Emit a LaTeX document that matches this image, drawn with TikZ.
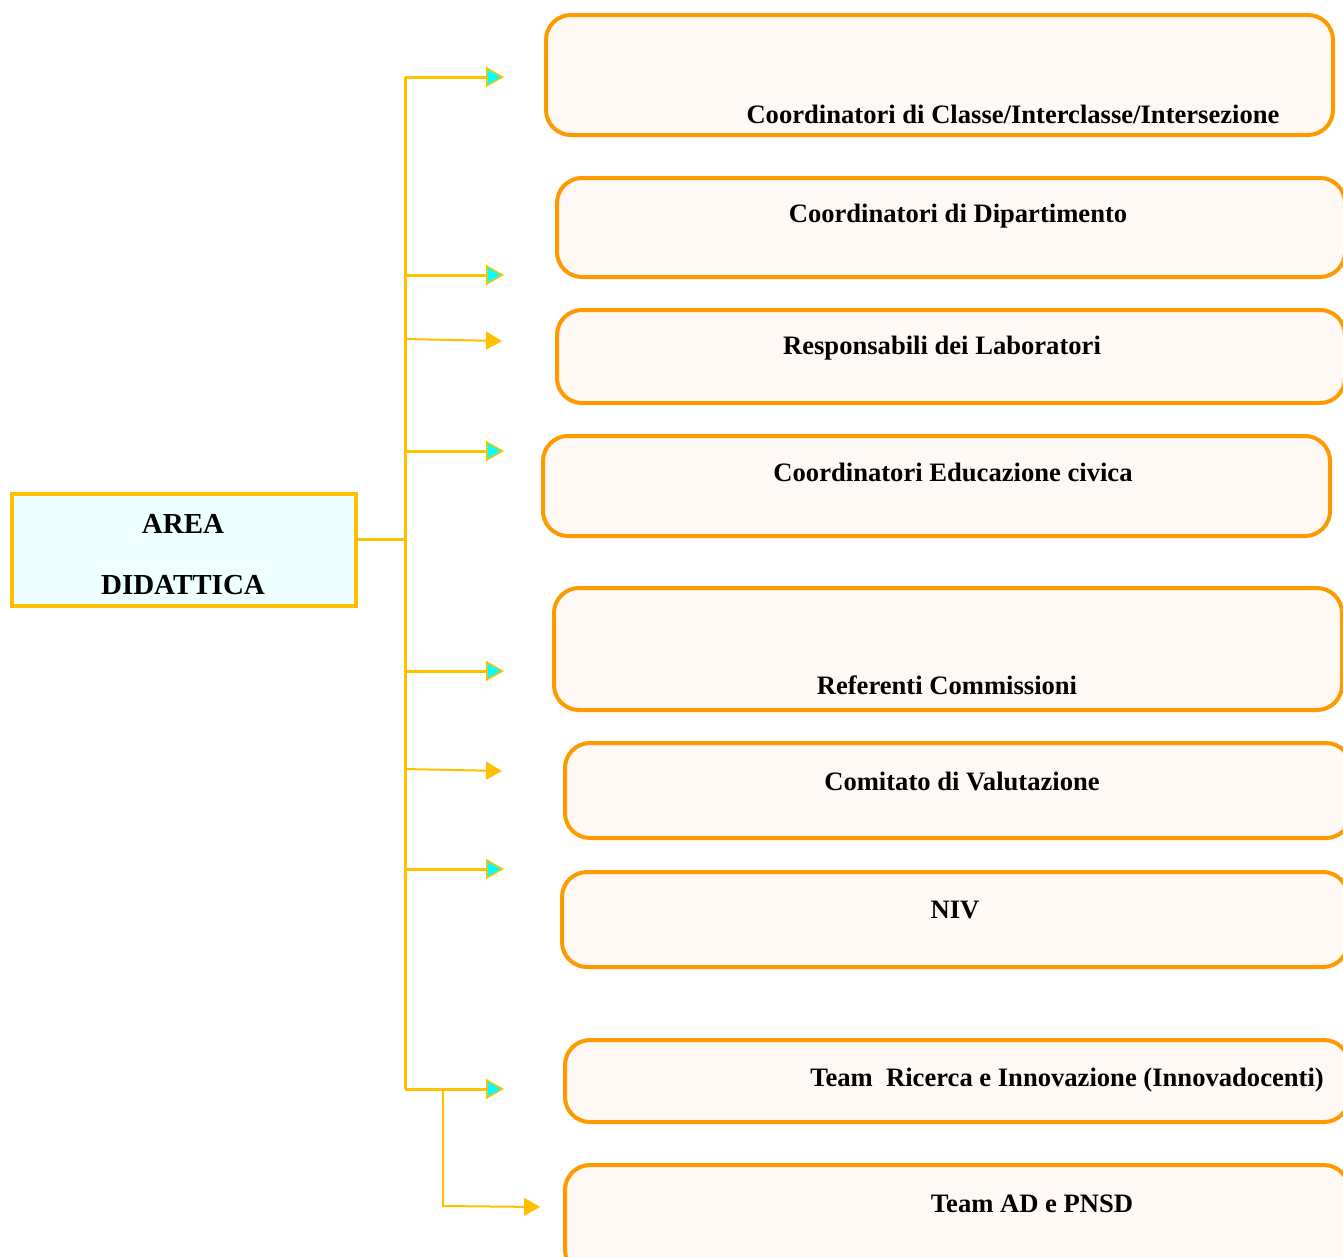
\documentclass[tikz,border=0pt]{standalone}
\usepackage{fontspec}
\setmainfont{Liberation Serif}
\usetikzlibrary{arrows.meta}
\definecolor{orb}{HTML}{FF9900}
\definecolor{orfill}{HTML}{FFF9F5}
\definecolor{yel}{HTML}{FFC000}
\definecolor{cyfill}{HTML}{EEFFFF}
\definecolor{cyhead}{HTML}{00FFFF}
\tikzset{
  rbox/.style={draw=orb, fill=orfill, line width=4pt, rounded corners=25pt, inner sep=0pt},
  mainbox/.style={draw=yel, fill=cyfill, line width=4.5pt, inner sep=0pt},
  mainlbl/.style={anchor=base, inner sep=0pt, font=\fontsize{29}{32}\selectfont\bfseries},
  lbl/.style={anchor=base, inner sep=0pt, font=\fontsize{26.6}{30}\selectfont\bfseries},
  conn/.style={draw=yel, line width=3pt},
  arrc/.style={draw=yel, line width=3pt, -{Triangle[length=18pt,width=20pt,line width=1.5pt,fill=cyhead]}},
  arry/.style={draw=yel, line width=2pt, -{Triangle[length=16pt,width=18pt,line width=1pt,fill=yel]}},
}
\begin{document}
\begin{tikzpicture}[x=1pt,y=-1pt]
\useasboundingbox (0,0) rectangle (1343,1256);
% left box
\node[mainbox, minimum width=344pt, minimum height=112pt] (area) at (184,550) {};
\node[mainlbl] (ta) at (183,533.5) {AREA};
\node[mainlbl] (tb) at (183,594.5) {DIDATTICA};
% right boxes
\node[rbox, minimum width=787pt, minimum height=120pt] (b1) at (939.5,75) {};
\node[rbox, minimum width=788pt, minimum height=99pt] (b2) at (951,227.5) {};
\node[rbox, minimum width=788pt, minimum height=93pt] (b3) at (951,356.5) {};
\node[rbox, minimum width=787pt, minimum height=100pt] (b4) at (936.5,486) {};
\node[rbox, minimum width=788pt, minimum height=122pt] (b5) at (948,649) {};
\node[rbox, minimum width=786pt, minimum height=95pt] (b6) at (958,790.5) {};
\node[rbox, minimum width=786pt, minimum height=95pt] (b7) at (955,919.5) {};
\node[rbox, minimum width=784pt, minimum height=82pt] (b8) at (957,1081) {};
\node[rbox, minimum width=784pt, minimum height=110pt] (b9) at (957,1220) {};
% labels
\node[lbl] (t1) at (1013,123) {Coordinatori di Classe/Interclasse/Intersezione};
\node[lbl] (t2) at (958,222) {Coordinatori di Dipartimento};
\node[lbl] (t3) at (942,354) {Responsabili dei Laboratori};
\node[lbl] (t4) at (953,481) {Coordinatori Educazione civica};
\node[lbl] (t5) at (947,694) {Referenti Commissioni};
\node[lbl] (t6) at (962,790) {Comitato di Valutazione};
\node[lbl] (t7) at (955,918) {NIV};
\node[lbl] (t8) at (1067,1086) {Team\ \ Ricerca e Innovazione (Innovadocenti)};
\node[lbl] (t9) at (1032,1212) {Team AD e PNSD};
% connector coordinates
\coordinate (j0) at (405,539);
\coordinate (s1) at (405,77);   \coordinate (e1) at (504,77);
\coordinate (s2) at (405,275);  \coordinate (e2) at (504,275);
\coordinate (s3) at (405,339);  \coordinate (e3) at (502,341);
\coordinate (s4) at (405,451);  \coordinate (e4) at (504,451);
\coordinate (s5) at (405,671);  \coordinate (e5) at (504,671);
\coordinate (s6) at (405,769);  \coordinate (e6) at (502,771);
\coordinate (s7) at (405,869);  \coordinate (e7) at (504,869);
\coordinate (s8) at (405,1089); \coordinate (e8) at (504,1089);
\coordinate (k1) at (443,1089); \coordinate (k2) at (443,1206); \coordinate (e9) at (540,1207);
% connectors
\draw[conn] (area.east |- j0) -- (j0);
\draw[conn] (s1) -- (s8);
\draw[arrc] (s1) -- (e1);
\draw[arrc] (s2) -- (e2);
\draw[arry] (s3) -- (e3);
\draw[arrc] (s4) -- (e4);
\draw[arrc] (s5) -- (e5);
\draw[arry] (s6) -- (e6);
\draw[arrc] (s7) -- (e7);
\draw[arrc] (s8) -- (e8);
\draw[arry] (k1) -- (k2) -- (e9);
\end{tikzpicture}
\end{document}
